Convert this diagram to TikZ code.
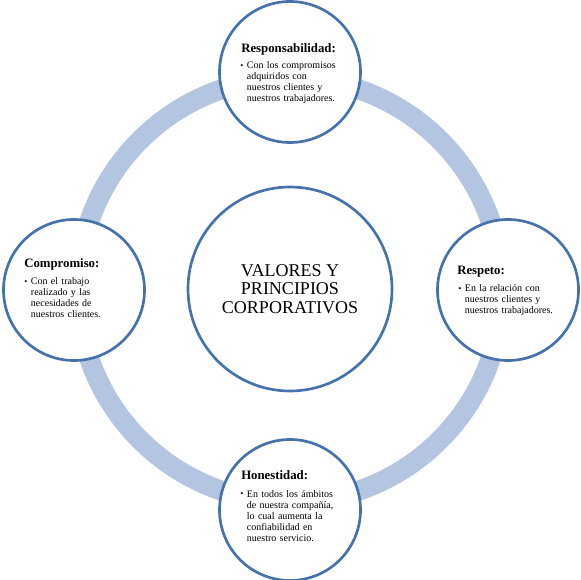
\documentclass[tikz,border=0pt]{standalone}
\usepackage{fontspec}
\setmainfont{Liberation Serif}
\usepackage{tikz}
\usepackage{xcolor}
\definecolor{ringblue}{RGB}{180, 197, 226}
\definecolor{edgeblue}{RGB}{70, 114, 172}
\usetikzlibrary{positioning}

\newcommand{\bul}{\makebox[5pt][l]{\raisebox{0.2pt}{\fontsize{6.5}{7}\selectfont\textbullet}}}
\newcommand{\ind}{\hspace*{5pt}}

\begin{document}
\begin{tikzpicture}[x=0.75pt,y=-0.75pt,
    valor/.style={circle, draw=edgeblue, line width=2pt, fill=white, inner sep=0pt, minimum size=105.75pt},
    titulo/.style={anchor=base west, inner sep=0pt, font=\fontsize{9.6}{10}\selectfont\bfseries},
    detalle/.style={anchor=base west, inner sep=0pt, text width=85pt, align=left, font=\fontsize{7.5}{8.25}\selectfont}]
    \useasboundingbox (0,0) rectangle (581,580);

    % Ring behind the circles
    \draw[ringblue, line width=15pt] (290,290) circle (212);

    % Centre
    \node[valor, minimum size=153pt, align=center, font=\fontsize{13.5}{13.9}\selectfont] (centro) at (290,289)
        {VALORES Y\\PRINCIPIOS\\CORPORATIVOS};

    % Values around the ring
    \node[valor] (resp) at (290,72) {};
    \node[valor] (comp) at (74,290) {};
    \node[valor] (resq) at (508,290) {};
    \node[valor] (hone) at (290,510) {};

    % Responsabilidad
    \node[titulo] (tresp) at (241,53) {Responsabilidad:};
    \node[detalle] (dresp) at (240,69) {\bul Con los compromisos\\\ind adquiridos con\\\ind nuestros clientes y\\\ind nuestros trabajadores.};

    % Compromiso
    \node[titulo] (tcomp) at (24,268) {Compromiso:};
    \node[detalle] (dcomp) at (24,285) {\bul Con el trabajo\\\ind realizado y las\\\ind necesidades de\\\ind nuestros clientes.};

    % Respeto
    \node[titulo] (tresq) at (457,275) {Respeto:};
    \node[detalle] (dresq) at (458,292) {\bul En la relación con\\\ind nuestros clientes y\\\ind nuestros trabajadores.};

    % Honestidad
    \node[titulo] (thone) at (241,479) {Honestidad:};
    \node[detalle] (dhone) at (240,497) {\bul En todos los ámbitos\\\ind de nuestra compañía,\\\ind lo cual aumenta la\\\ind confiabilidad en\\\ind nuestro servicio.};
\end{tikzpicture}
\end{document}
